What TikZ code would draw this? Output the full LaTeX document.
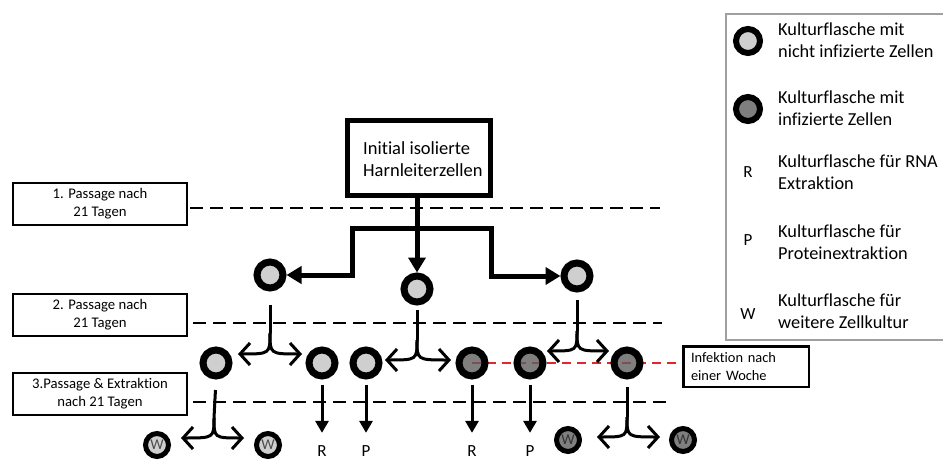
\documentclass[tikz,border=0pt]{standalone}
\usepackage{fontspec}
\setmainfont{Carlito}[Ligatures=NoCommon]
\usetikzlibrary{arrows.meta}
\pgfdeclarelayer{back}
\pgfsetlayers{back,main}

\definecolor{cellLight}{HTML}{CFCFCF}
\definecolor{cellDark}{HTML}{7F7F7F}
\definecolor{cellDarkBase}{HTML}{5F5F5F}
\definecolor{keyFrame}{HTML}{A0A0A0}
\definecolor{infRed}{HTML}{E3262B}

\begin{document}
\begin{tikzpicture}[x=1pt,y=-1pt,
  flask/.style={circle,draw=black,line width=7pt,minimum size=26pt,inner sep=0pt},
  healthy/.style={flask,fill=cellLight},
  infected/.style={flask,fill=cellDarkBase,fill opacity=0.8},
  smallflask/.style={circle,draw=black,line width=5pt,minimum size=23pt,inner sep=0pt,
    font=\fontsize{15}{16}\selectfont},
  wlight/.style={smallflask,fill=cellLight,text=black!70},
  wdark/.style={smallflask,fill=cellDark,text=black!80},
  keyflask/.style={circle,draw=black,line width=6pt,minimum size=24pt,inner sep=0pt},
  keysym/.style={inner sep=0pt,font=\fontsize{17}{20}\selectfont},
  keytext/.style={anchor=west,align=left,inner sep=0pt,font=\fontsize{18.3}{22}\selectfont},
  stepbox/.style={draw=black,line width=2.2pt,minimum width=174pt,minimum height=42pt,
    align=center,inner sep=0pt,font=\fontsize{14.7}{18}\selectfont},
  startbox/.style={draw=black,line width=5pt,minimum width=143pt,minimum height=75pt,inner sep=0pt},
  notebox/.style={draw=black,line width=2.5pt,minimum height=40.5pt,text width=110pt,
    inner xsep=7.75pt,inner ysep=0pt,align=left,font=\fontsize{14.4}{18}\selectfont},
  outlabel/.style={inner sep=0pt,font=\fontsize{17}{20}\selectfont},
  passline/.style={line width=2pt,dash pattern=on 13pt off 7pt},
  infline/.style={infRed,line width=2.5pt,dash pattern=on 9pt off 6pt},
  mainarrow/.style={line width=5pt,line join=miter,-{Triangle[length=15pt,width=17pt]}},
  splitline/.style={line width=3pt},
  splitarrow/.style={line width=3pt,-{Straight Barb[length=10pt,width=22pt]}},
  droparrow/.style={line width=3pt,-{Triangle[length=12pt,width=13pt]}},
]
\path[use as bounding box] (0,0) rectangle (943,460);

% ---- legend ----
\draw[keyFrame,line width=1.5pt] (943,14) -- (726,14) -- (726,340) -- (943,340);
\node[keyflask,fill=cellLight] (k1) at (748,41) {};
\node[keyflask,fill=cellDark] (k2) at (748,109) {};
\node[keysym] (k3) at (748,172) {R};
\node[keysym] (k4) at (748,240) {P};
\node[keysym] (k5) at (748,314) {W};
\node[keytext] (t1) at (778,40) {Kulturflasche mit\\nicht infizierte Zellen};
\node[keytext] (t2) at (778,108) {Kulturflasche mit\\infizierte Zellen};
\node[keytext] (t3) at (778,172) {Kulturflasche für RNA\\Extraktion};
\node[keytext] (t4) at (778,242) {Kulturflasche für\\Proteinextraktion};
\node[keytext] (t5) at (778,311) {Kulturflasche für\\weitere Zellkultur};

% ---- passage labels and separators ----
\node[stepbox] (p1) at (100,204) {1. Passage nach\\21 Tagen};
\node[stepbox] (p2) at (100,315) {2. Passage nach\\21 Tagen};
\node[stepbox] (p3) at (100,394) {3.Passage \& Extraktion\\nach 21 Tagen};
\draw[passline] (190,208) -- (660,208);
\draw[passline] (193,323) -- (662,323);
\draw[passline] (193,402) -- (668,402);

% ---- starting culture ----
\node[startbox] (start) at (419,158) {};
\node[anchor=west,align=left,inner sep=0pt,font=\fontsize{18.5}{22}\selectfont]
  (startlbl) at (363,159) {Initial isolierte\\Harnleiterzellen};

% ---- first passage ----
\node[healthy] (cL) at (270,275) {};
\node[healthy] (c0) at (417,289) {};
\node[healthy] (cR) at (577,276) {};

\coordinate (split) at (417,228);
\coordinate (splitL) at (352,228);
\coordinate (splitR) at (491,228);
\draw[mainarrow] (start.south -| c0) -- (c0.north);
\draw[mainarrow] (split) -- (splitL) |- (cL.east);
\draw[mainarrow] (split) -- (splitR) |- (cR.west);

% ---- second passage ----
\node[healthy]  (c1) at (216,363) {};
\node[healthy]  (c2) at (322,363) {};
\node[healthy]  (c3) at (366,363) {};
\node[infected] (c4) at (472,363) {};
\node[infected] (c5) at (530,363) {};
\node[infected] (c6) at (627,363) {};

% splits into two flasks
\coordinate (j1) at (270,333);
\coordinate (j1l) at (238,354);
\coordinate (j1r) at (302,354);
\draw[splitline,shorten <=13pt] (cL.south) -- (j1);
\draw[splitarrow] (j1) .. controls (270,354) .. (j1l);
\draw[splitarrow] (j1) .. controls (270,354) .. (j1r);

\coordinate (j2) at (417,340);
\coordinate (j2l) at (385,360);
\coordinate (j2r) at (451,360);
\draw[splitline,shorten <=4.5pt] (c0.south) -- (j2);
\draw[splitarrow] (j2) .. controls (417,360) .. (j2l);
\draw[splitarrow] (j2) .. controls (417,360) .. (j2r);

\coordinate (j3) at (577,331);
\coordinate (j3l) at (547,351);
\coordinate (j3r) at (609,351);
\draw[splitline,shorten <=7.5pt] (cR.south) -- (j3);
\draw[splitarrow] (j3) .. controls (577,351) .. (j3l);
\draw[splitarrow] (j3) .. controls (577,351) .. (j3r);

% infection mark
\node[notebox] (inf) at (746,366.5) {Infektion nach\\einer Woche};
\begin{pgfonlayer}{back}
  \draw[infline] (c4.center) -- (c4.center -| inf.west);
\end{pgfonlayer}

% ---- third passage and extraction ----
\node[outlabel] (o1) at (322,451) {R};
\node[outlabel] (o2) at (366,451) {P};
\node[outlabel] (o3) at (472,451) {R};
\node[outlabel] (o4) at (530,451) {P};
\draw[droparrow,shorten <=5pt,shorten >=12.5pt] (c2) -- (o1);
\draw[droparrow,shorten <=5pt,shorten >=12.5pt] (c3) -- (o2);
\draw[droparrow,shorten <=5pt,shorten >=12.5pt] (c4) -- (o3);
\draw[droparrow,shorten <=5pt,shorten >=12.5pt] (c5) -- (o4);

\node[wlight] (w1) at (157,445) {W};
\node[wlight] (w2) at (268,445) {W};
\node[wdark]  (w3) at (568,440) {W};
\node[wdark]  (w4) at (683,440) {W};

\coordinate (j4) at (214,418);
\coordinate (j4l) at (181,438);
\coordinate (j4r) at (244,438);
\draw[splitline,shorten <=10.5pt] (c1.south) -- (j4);
\draw[splitarrow] (j4) .. controls (214,438) .. (j4l);
\draw[splitarrow] (j4) .. controls (214,438) .. (j4r);

\coordinate (j5) at (627,417);
\coordinate (j5l) at (597,437);
\coordinate (j5r) at (660,437);
\draw[splitline,shorten <=7.5pt] (c6.south) -- (j5);
\draw[splitarrow] (j5) .. controls (627,437) .. (j5l);
\draw[splitarrow] (j5) .. controls (627,437) .. (j5r);
\end{tikzpicture}
\end{document}
